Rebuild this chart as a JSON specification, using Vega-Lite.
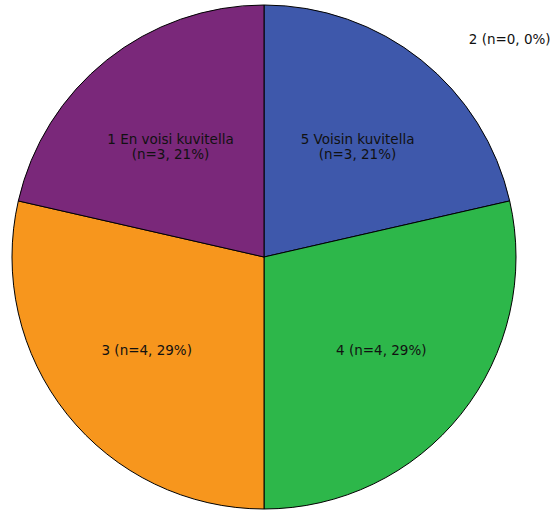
{
  "$schema": "https://vega.github.io/schema/vega-lite/v6.json",
  "width": 528,
  "height": 514,
  "padding": {"left": 0, "top": 0, "right": 25, "bottom": 0},
  "autosize": {"type": "none"},
  "background": "white",
  "config": {"view": {"stroke": null}},
  "data": {
    "values": [
      {"ord": 1, "category": "5 Voisin kuvitella", "n": 3, "label": ["5 Voisin kuvitella", "(n=3, 21%)"]},
      {"ord": 2, "category": "4", "n": 4, "label": ["4 (n=4, 29%)"]},
      {"ord": 3, "category": "3", "n": 4, "label": ["3 (n=4, 29%)"]},
      {"ord": 4, "category": "2", "n": 0, "label": ["2 (n=0, 0%)"]},
      {"ord": 5, "category": "1 En voisi kuvitella", "n": 3, "label": ["1 En voisi kuvitella", "(n=3, 21%)"]}
    ]
  },
  "encoding": {
    "theta": {"field": "n", "type": "quantitative", "stack": true},
    "order": {"field": "ord", "type": "quantitative", "sort": "ascending"}
  },
  "layer": [
    {
      "transform": [{"filter": "datum.n > 0"}],
      "mark": {"type": "arc", "outerRadius": 252, "stroke": "#000000", "strokeWidth": 1},
      "encoding": {
        "color": {
          "field": "category",
          "type": "nominal",
          "scale": {
            "domain": ["5 Voisin kuvitella", "4", "3", "2", "1 En voisi kuvitella"],
            "range": ["#3e58ab", "#2db74a", "#f7961d", "#cccccc", "#7a287a"]
          },
          "legend": null
        }
      }
    },
    {
      "transform": [{"filter": "datum.n > 0"}],
      "mark": {"type": "text", "radius": 150, "font": "DejaVu Sans", "fontSize": 13.5, "lineHeight": 15, "color": "#111111", "align": "center", "baseline": "middle"},
      "encoding": {
        "text": {"field": "label"}
      }
    },
    {
      "transform": [{"filter": "datum.n == 0"}],
      "mark": {"type": "text", "radius": 328, "theta": 0.8466, "font": "DejaVu Sans", "fontSize": 13.5, "color": "#111111", "align": "center", "baseline": "middle"},
      "encoding": {
        "theta": null,
        "order": null,
        "text": {"field": "label"}
      }
    }
  ]
}
